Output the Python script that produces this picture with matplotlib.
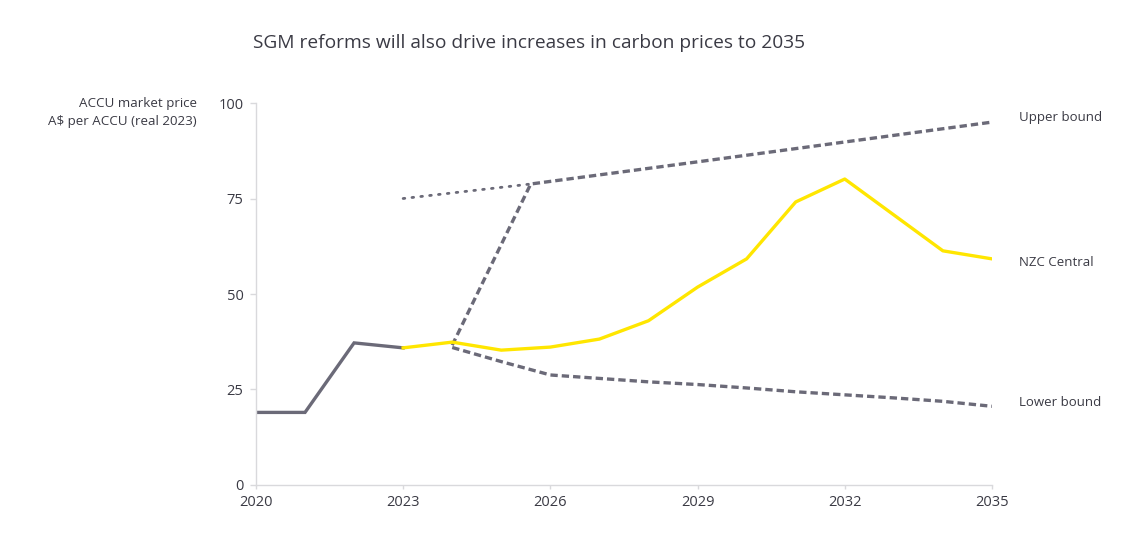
import matplotlib
matplotlib.use("Agg")
import matplotlib.pyplot as plt

plt.rcParams['font.family'] = ['Open Sans', 'DejaVu Sans']

# Historical ACCU prices
hist_years = [2020, 2021, 2022, 2023]
hist_price = [19.0, 19.0, 37.2, 35.9]

# NZC Central projection
central_years = [2023, 2024, 2025, 2026, 2027, 2028, 2029, 2030, 2031, 2032, 2033, 2034, 2035]
central_price = [35.9, 37.4, 35.3, 36.1, 38.2, 43.0, 51.8, 59.2, 74.1, 80.1, 70.7, 61.3, 59.2]

# Upper bound (dotted lead-in, then dashed)
upper_lead_years = [2023, 2025.6]
upper_lead_price = [75.0, 78.8]
upper_years = [2024, 2025.6, 2029, 2032, 2035]
upper_price = [36.6, 78.8, 84.6, 89.8, 95.0]

# Lower bound
lower_years = [2024, 2025, 2026, 2027, 2028, 2029, 2030, 2031, 2032, 2033, 2034, 2035]
lower_price = [36.0, 32.3, 28.8, 27.9, 27.0, 26.3, 25.4, 24.4, 23.6, 22.8, 21.9, 20.6]

x_ticks = [2020, 2023, 2026, 2029, 2032, 2035]
y_ticks = [0, 25, 50, 75, 100]

grey = '#6b6a78'
yellow = '#ffe600'
text_c = '#3a3a44'
axis_c = '#d9d9dc'

fig = plt.figure(figsize=(11.32, 5.53), dpi=100)
ax = fig.add_axes([0.2261, 0.1230, 0.6502, 0.6907])

ax.plot(upper_lead_years, upper_lead_price, color=grey, lw=2.0, linestyle=(0, (0.6, 2.6)),
        dash_capstyle='round')
ax.plot(upper_years, upper_price, color=grey, lw=2.4, linestyle=(0, (2.2, 1.2)))
ax.plot(lower_years, lower_price, color=grey, lw=2.4, linestyle=(0, (2.2, 1.2)))
ax.plot(hist_years, hist_price, color=grey, lw=2.4, solid_joinstyle='miter')
ax.plot(central_years, central_price, color=yellow, lw=2.4)

ax.set_xlim(2020, 2035)
ax.set_ylim(0, 100)
ax.set_xticks(x_ticks)
ax.set_yticks(y_ticks)
ax.set_xticklabels([str(v) for v in x_ticks])
ax.set_yticklabels([str(v) for v in y_ticks])

for s in ['top', 'right']:
    ax.spines[s].set_visible(False)
for s in ['left', 'bottom']:
    ax.spines[s].set_color(axis_c)
    ax.spines[s].set_linewidth(1.0)
ax.tick_params(axis='both', colors=axis_c, labelcolor=text_c, labelsize=10.5, width=1.0)
ax.tick_params(axis='y', length=4, pad=5)
ax.tick_params(axis='x', length=3, pad=4)

# Series labels on the right
label_x = 2035.55
ax.text(label_x, 96.3, 'Upper bound', color=text_c, fontsize=9.5, va='center', ha='left', clip_on=False)
ax.text(label_x, 58.3, 'NZC Central', color=text_c, fontsize=9.5, va='center', ha='left', clip_on=False)
ax.text(label_x, 21.6, 'Lower bound', color=text_c, fontsize=9.5, va='center', ha='left', clip_on=False)

# Y-axis title
fig.text(197 / 1132, 1 - 103 / 553, 'ACCU market price', color=text_c, fontsize=9.6,
         ha='right', va='center')
fig.text(197 / 1132, 1 - 121 / 553, 'A$ per ACCU (real 2023)', color=text_c, fontsize=9.6,
         ha='right', va='center')

fig.text(529 / 1132, 1 - 43 / 553, 'SGM reforms will also drive increases in carbon prices to 2035',
         color=text_c, fontsize=13.8, ha='center', va='center')

fig.savefig('out.png', dpi=100, facecolor='white')
